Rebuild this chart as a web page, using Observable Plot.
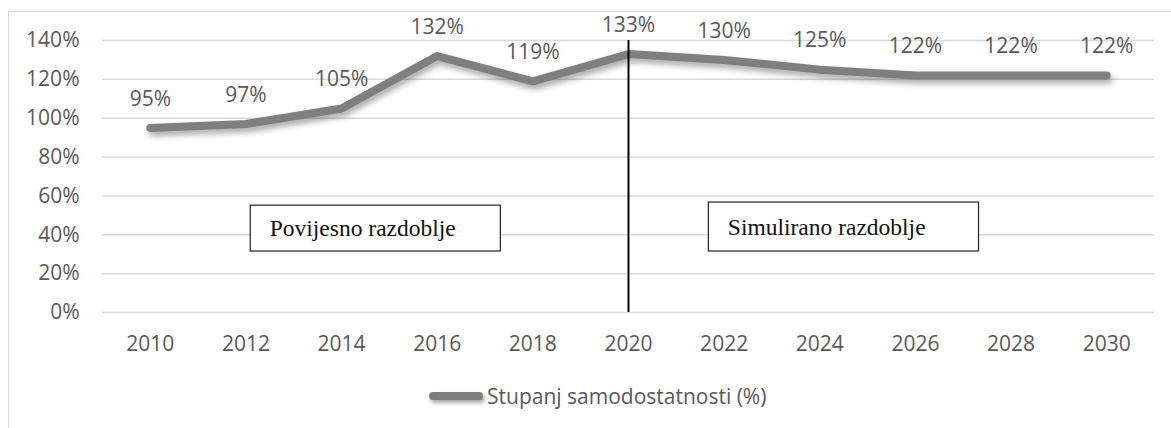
<!DOCTYPE html>
<html>
<head>
<meta charset="utf-8">
<script src="https://cdn.jsdelivr.net/npm/d3@7"></script>
<script src="https://cdn.jsdelivr.net/npm/@observablehq/plot@0.6"></script>
<style>
  html, body { margin: 0; padding: 0; background: #fff; }
  #wrap { position: relative; width: 1171px; height: 428px; overflow: hidden; font-family: "Open Sans", sans-serif; }
  #frame { position: absolute; left: 8px; top: 11px; width: 1180px; height: 440px; border: 1.5px solid #d9d9d9; box-sizing: border-box; }
  #chart { position: absolute; left: 0; top: 0; }
  #legend { position: absolute; left: 429px; top: 382px; display: flex; align-items: center; color: #595959; font-size: 21px; white-space: nowrap; }
  #legend .sw { display: inline-block; width: 54px; height: 8px; border-radius: 4px; background: #7f7f7f; margin-right: 4px; box-shadow: 2px 3px 4px rgba(0,0,0,0.35); }
</style>
</head>
<body>
<div id="wrap">
  <div id="frame"></div>
  <div id="chart"></div>
  <div id="legend"><span class="sw"></span><span class="lb"></span></div>
</div>
<script>
const years = [2010, 2012, 2014, 2016, 2018, 2020, 2022, 2024, 2026, 2028, 2030];
const values = [95, 97, 105, 132, 119, 133, 130, 125, 122, 122, 122];
const yTicks = [0, 20, 40, 60, 80, 100, 120, 140];
const seriesName = "Stupanj samodostatnosti (%)";
const splitYear = [2020];
const boxLabels = ["Povijesno razdoblje", "Simulirano razdoblje"];
const boxX1 = [2012.1, 2021.68];
const boxX2 = [2017.33, 2027.33];
const boxY1 = [31.4, 31.4];
const boxY2 = [55, 56.6];

const data = years.map((y, i) => ({year: y, value: values[i]}));
const boxes = boxLabels.map((t, i) => ({label: t, x1: boxX1[i], x2: boxX2[i], y1: boxY1[i], y2: boxY2[i]}));
document.querySelector("#legend .lb").textContent = seriesName;

const plot = Plot.plot({
  width: 1171,
  height: 428,
  marginLeft: 102,
  marginRight: 17,
  marginTop: 40,
  marginBottom: 116,
  style: {fontFamily: "'Open Sans', sans-serif", fontSize: "21px", color: "#595959", background: "transparent", overflow: "visible"},
  x: {domain: [2009, 2031], ticks: years, tickFormat: d => String(d), tickSize: 0, tickPadding: 24, label: null},
  y: {domain: [0, 140], ticks: yTicks, tickFormat: d => d + "%", tickSize: 0, tickPadding: 23, label: null},
  marks: [
    Plot.ruleY(yTicks, {stroke: "#d9d9d9", strokeWidth: 1.5, strokeOpacity: 1}),
    Plot.line(data, {x: "year", y: "value", stroke: "#7f7f7f", strokeWidth: 8, strokeLinecap: "round", strokeLinejoin: "round", className: "series-line"}),
    Plot.ruleX(splitYear, {y1: 0, y2: 140, stroke: "#000", strokeWidth: 2}),
    Plot.text(data, {x: "year", y: "value", text: d => d.value + "%", dy: -29, fill: "#595959", fontSize: 21}),
    Plot.rect(boxes, {x1: "x1", x2: "x2", y1: "y1", y2: "y2", fill: "#fff", stroke: "#222", strokeWidth: 1.2}),
    Plot.text(boxes, {x: "x1", y: d => (d.y1 + d.y2) / 2, text: "label", textAnchor: "start", dx: 19, fill: "#111", fontFamily: "'Liberation Serif', 'Times New Roman', serif", fontSize: 23.5})
  ]
});
document.getElementById("chart").appendChild(plot);
d3.select(plot).selectAll(".series-line path").style("filter", "drop-shadow(2px 4px 3px rgba(0,0,0,0.35))");
</script>
</body>
</html>
